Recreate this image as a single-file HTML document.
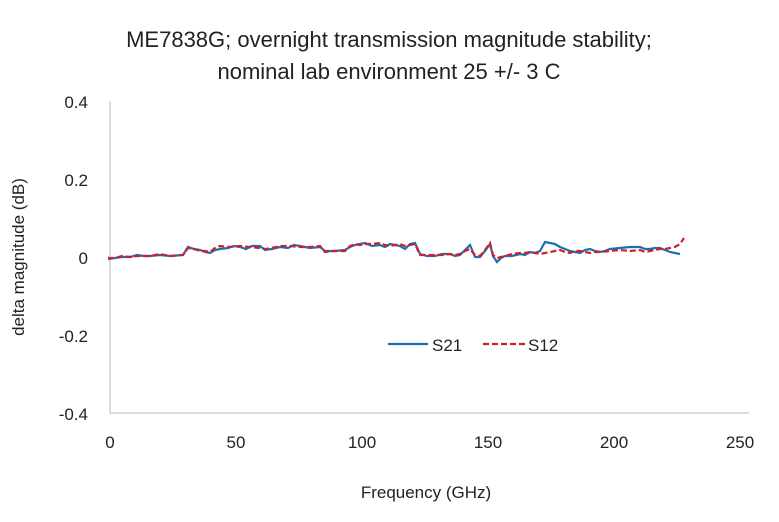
<!DOCTYPE html>
<html><head><style>body{margin:0;background:#fff}svg{display:block}text{font-family:"Liberation Sans",sans-serif;fill:#222}</style></head>
<body>
<svg width="779" height="522" viewBox="0 0 779 522">
<text x="389" y="47" font-size="22" text-anchor="middle">ME7838G; overnight transmission magnitude stability;</text>
<text x="389" y="79" font-size="22" text-anchor="middle">nominal lab environment 25 +/- 3 C</text>
<line x1="110" y1="101" x2="110" y2="413" stroke="#d0d0d0" stroke-width="1.5"/>
<line x1="110" y1="413" x2="749" y2="413" stroke="#d0d0d0" stroke-width="1.5"/>
<g font-size="17" text-anchor="end">
<text x="88" y="108">0.4</text><text x="88" y="186">0.2</text><text x="88" y="264">0</text><text x="88" y="342">-0.2</text><text x="88" y="420">-0.4</text>
</g>
<g font-size="17" text-anchor="middle">
<text x="110" y="448">0</text><text x="236" y="448">50</text><text x="362" y="448">100</text><text x="488" y="448">150</text><text x="614" y="448">200</text><text x="740" y="448">250</text>
</g>
<text x="426" y="498" font-size="17" text-anchor="middle">Frequency (GHz)</text>
<text transform="translate(24,257) rotate(-90)" font-size="17" text-anchor="middle">delta magnitude (dB)</text>
<polyline fill="none" stroke="#1f6fb0" stroke-width="2.2" points="108,259 115,258 122,257 130,257 137,255 144,256 150,256 160,255 170,256 183,255 188,247 194,249 200,250 205,252 210,253 215,250 220,249 228,248 234,246 240,247 246,249 252,246 260,246 265,250 272,249 280,247 288,248 294,245 300,246 310,248 320,247 325,251 335,251 345,250 350,247 355,245 360,244 365,243 372,246 380,245 385,247 390,244 395,245 400,246 405,249 410,244 415,243 420,254 427,256 435,256 442,254 450,254 455,256 460,255 465,250 470,245 475,257 480,257 485,251 490,244 493,256 497,262 501,258 505,256 512,256 520,254 525,255 530,252 535,253 540,251 545,242 550,243 555,244 560,247 565,249 570,251 575,252 580,253 585,250 590,249 595,251 600,252 605,251 610,249 620,248 630,247 640,247 645,249 650,249 655,248 660,248 665,250 670,252 675,253 680,254"/>
<polyline fill="none" stroke="#d0202a" stroke-width="2.2" stroke-dasharray="6,3" points="108,258 115,258 122,256 130,257 138,256 150,256 160,254 170,256 183,255 188,248 194,249 200,251 205,251 210,252 215,248 220,246 230,247 240,246 250,247 260,248 265,249 272,248 280,246 290,246 300,247 310,247 320,246 325,252 335,251 345,251 350,246 355,244 360,245 365,244 372,244 380,243 385,245 390,246 395,245 400,244 405,246 410,245 415,244 420,255 427,255 435,255 442,255 450,254 455,255 460,254 465,251 470,249 475,255 480,256 485,250 490,243 493,255 497,258 501,257 505,256 512,254 520,253 525,253 530,252 535,253 540,254 545,253 550,252 555,251 560,250 565,252 570,253 575,251 580,251 585,252 590,253 595,252 600,252 610,251 620,250 630,251 640,250 645,252 650,251 655,250 660,249 665,249 670,248 675,247 680,244 684,238"/>
<line x1="388" y1="344" x2="428" y2="344" stroke="#1f6fb0" stroke-width="2.2"/>
<text x="432" y="351" font-size="17">S21</text>
<line x1="483" y1="344" x2="525" y2="344" stroke="#d0202a" stroke-width="2.2" stroke-dasharray="6,3"/>
<text x="528" y="351" font-size="17">S12</text>
</svg>
</body></html>
